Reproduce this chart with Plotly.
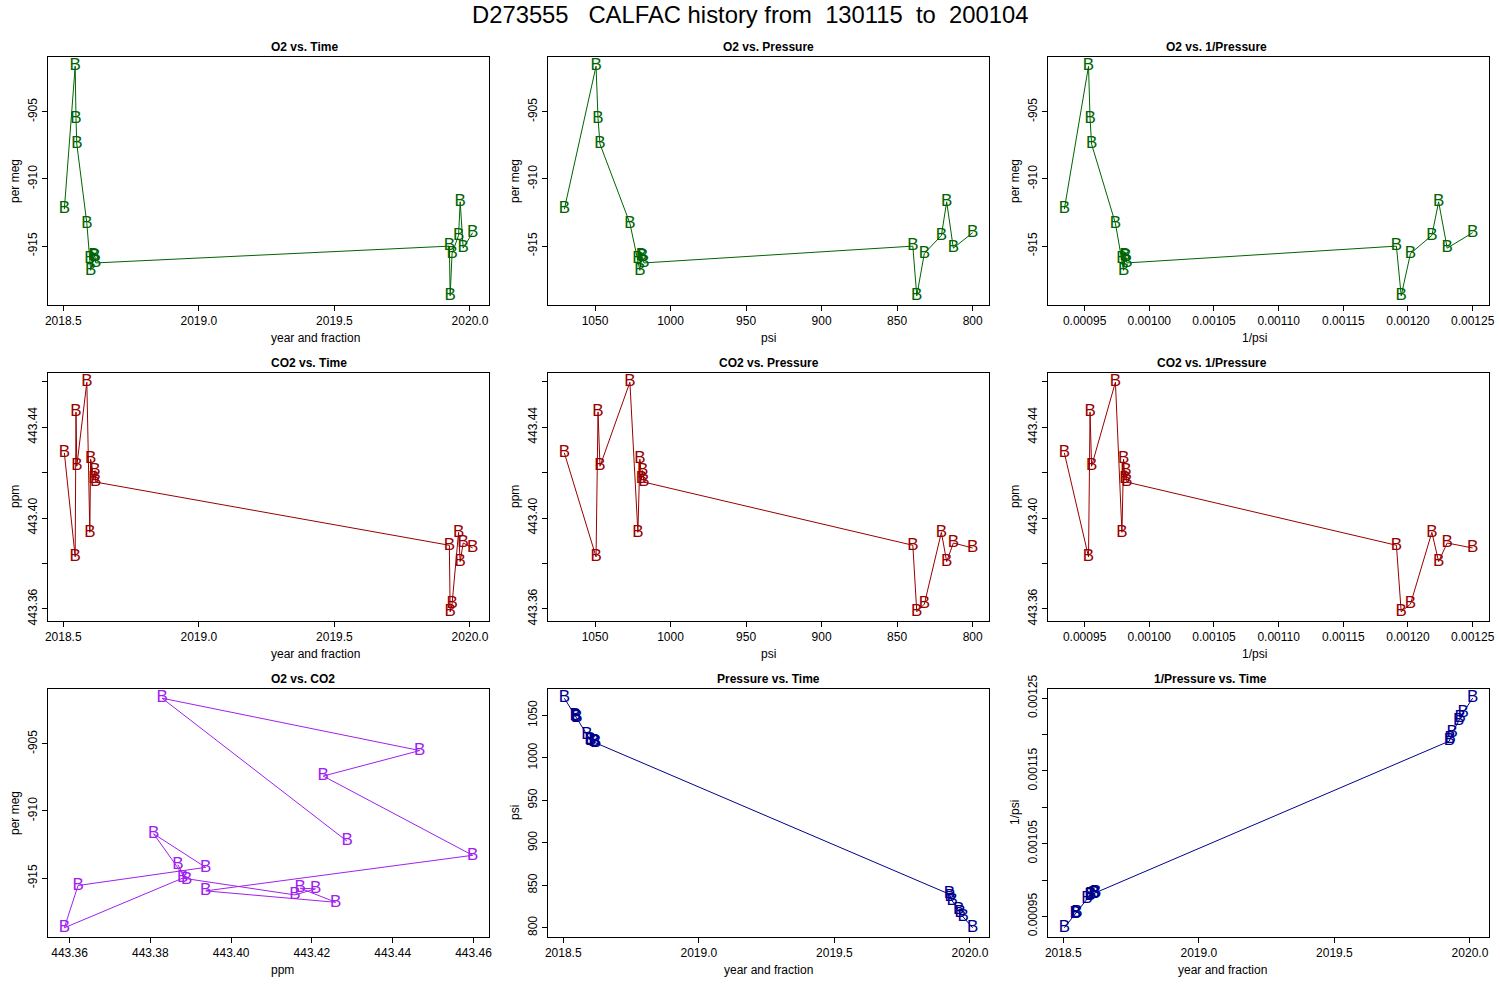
import numpy as np
import plotly.graph_objects as go

# flask D273555, CALFAC runs
time = [2018.504, 2018.544, 2018.547, 2018.550, 2018.587, 2018.598, 2018.601,
        2018.613, 2018.617, 2018.620, 2019.924, 2019.927, 2019.934, 2019.958,
        2019.964, 2019.975, 2020.010]
o2 = [-912.25, -901.6, -905.5, -907.4, -913.3, -915.95, -916.8, -915.75,
      -915.8, -916.25, -915.0, -918.7, -915.55, -914.2, -911.7, -915.15, -914.0]
co2 = [443.4287, 443.3829, 443.4467, 443.4228, 443.4598, 443.3937, 443.4259,
       443.4171, 443.4209, 443.4158, 443.3880, 443.3587, 443.3621, 443.3937,
       443.3808, 443.3890, 443.3868]
psi = [1070.3, 1049.3, 1048.0, 1046.7, 1026.9, 1021.6, 1020.3, 1019.2, 1018.5,
       1017.6, 839.6, 837.0, 832.0, 820.7, 817.2, 812.8, 800.0]
inv_psi = [1.0 / p for p in psi]

flag = "B"
main_title = "D273555   CALFAC history from  130115  to  200104"

time_ticks = [2018.5, 2019.0, 2019.5, 2020.0]
o2_ticks = [-905, -910, -915]
co2_ticks = [443.36, 443.38, 443.40, 443.42, 443.44, 443.46]
psi_ticks = [800, 850, 900, 950, 1000, 1050]
inv_ticks = [0.00095, 0.00100, 0.00105, 0.00110, 0.00115, 0.00120, 0.00125]

GREEN = "#006400"
RED = "#990000"
PURPLE = "#A020F0"
BLUE = "#00008B"
FONT = "Liberation Sans, Arial, Helvetica, sans-serif"

W, H = 1500, 1000
col_x = [(48, 489), (548, 989), (1048, 1489)]
row_y = [(57, 305), (373, 621), (689, 937)]


def rrange(v, rev=False):
    # R style 4% padding
    lo, hi = min(v), max(v)
    d = (hi - lo) * 0.04
    r = [lo - d, hi + d]
    return r[::-1] if rev else r


def fmt(vals, f, skip=None):
    out = []
    for i, v in enumerate(vals):
        if skip is not None and i % 2 == skip:
            out.append("")
        else:
            out.append(f.format(v))
    return out


# (title, x, y, colour, xlab, ylab, xticks, xtext, yticks, ytext, reverse x)
panels = [
    ("O2 vs. Time", time, o2, GREEN, "year and fraction", "per meg",
     time_ticks, fmt(time_ticks, "{:.1f}"), o2_ticks, fmt(o2_ticks, "{:.0f}"), False),
    ("O2 vs. Pressure", psi, o2, GREEN, "psi", "per meg",
     psi_ticks, fmt(psi_ticks, "{:.0f}"), o2_ticks, fmt(o2_ticks, "{:.0f}"), True),
    ("O2 vs. 1/Pressure", inv_psi, o2, GREEN, "1/psi", "per meg",
     inv_ticks, fmt(inv_ticks, "{:.5f}"), o2_ticks, fmt(o2_ticks, "{:.0f}"), False),
    ("CO2 vs. Time", time, co2, RED, "year and fraction", "ppm",
     time_ticks, fmt(time_ticks, "{:.1f}"), co2_ticks, fmt(co2_ticks, "{:.2f}", skip=1), False),
    ("CO2 vs. Pressure", psi, co2, RED, "psi", "ppm",
     psi_ticks, fmt(psi_ticks, "{:.0f}"), co2_ticks, fmt(co2_ticks, "{:.2f}", skip=1), True),
    ("CO2 vs. 1/Pressure", inv_psi, co2, RED, "1/psi", "ppm",
     inv_ticks, fmt(inv_ticks, "{:.5f}"), co2_ticks, fmt(co2_ticks, "{:.2f}", skip=1), False),
    ("O2 vs. CO2", co2, o2, PURPLE, "ppm", "per meg",
     co2_ticks, fmt(co2_ticks, "{:.2f}"), o2_ticks, fmt(o2_ticks, "{:.0f}"), False),
    ("Pressure vs. Time", time, psi, BLUE, "year and fraction", "psi",
     time_ticks, fmt(time_ticks, "{:.1f}"), psi_ticks, fmt(psi_ticks, "{:.0f}"), False),
    ("1/Pressure vs. Time", time, inv_psi, BLUE, "year and fraction", "1/psi",
     time_ticks, fmt(time_ticks, "{:.1f}"), inv_ticks, fmt(inv_ticks, "{:.5f}", skip=1), False),
]

fig = go.Figure()
annotations = []
layout_axes = {}

for k, (title, xv, yv, col, xlab, ylab, xt, xtt, yt, ytt, rev) in enumerate(panels):
    r, c = divmod(k, 3)
    n = k + 1
    xa = "x" if n == 1 else "x%d" % n
    ya = "y" if n == 1 else "y%d" % n
    x0, x1 = col_x[c]
    y0, y1 = row_y[r]

    fig.add_trace(go.Scatter(
        x=xv, y=yv, xaxis=xa, yaxis=ya,
        mode="lines+text", text=[flag] * len(xv),
        textposition="middle center",
        textfont=dict(family=FONT, size=17, color=col),
        line=dict(color=col, width=1),
        showlegend=False, cliponaxis=False,
    ))

    common = dict(showgrid=False, zeroline=False, showline=True, mirror=True,
                  automargin=False,
                  linecolor="black", linewidth=1, ticks="outside", ticklen=5,
                  tickcolor="black", tickfont=dict(family=FONT, size=12, color="black"))
    layout_axes["xaxis" if n == 1 else "xaxis%d" % n] = dict(
        domain=[x0 / W, x1 / W], anchor=ya, range=rrange(xv, rev),
        tickmode="array", tickvals=xt, ticktext=xtt, **common)
    layout_axes["yaxis" if n == 1 else "yaxis%d" % n] = dict(
        domain=[1 - y1 / H, 1 - y0 / H], anchor=xa, range=rrange(yv),
        tickmode="array", tickvals=yt, ticktext=ytt, tickangle=-90, **common)

    annotations.append(dict(
        text="<b>%s</b>" % title, x=(x0 + x1) / 2 / W, y=1 - (y0 - 10) / H,
        xref="paper", yref="paper", showarrow=False, yanchor="middle",
        font=dict(family=FONT, size=12, color="black")))
    annotations.append(dict(
        text=xlab, x=(x0 + x1) / 2 / W, y=1 - (y1 + 33) / H,
        xref="paper", yref="paper", showarrow=False, yanchor="middle",
        font=dict(family=FONT, size=12, color="black")))
    annotations.append(dict(
        text=ylab, x=(x0 - 33) / W, y=1 - (y0 + y1) / 2 / H, textangle=-90,
        xref="paper", yref="paper", showarrow=False, xanchor="center", yanchor="middle",
        font=dict(family=FONT, size=12, color="black")))

annotations.append(dict(
    text=main_title.replace(" ", "\u00a0"), x=0.5, y=1 - 14 / H,
    xref="paper", yref="paper", showarrow=False, yanchor="middle",
    font=dict(family=FONT, size=23.8, color="black")))

fig.update_layout(
    width=W, height=H, margin=dict(l=0, r=0, t=0, b=0, autoexpand=False),
    paper_bgcolor="white", plot_bgcolor="white",
    annotations=annotations, **layout_axes)

# no page margin, so the 1500x1000 figure fills the window exactly
fig.write_html("out.html", config={"displayModeBar": False},
               post_script="document.body.style.margin='0';"
                           "document.body.style.overflow='hidden';")
